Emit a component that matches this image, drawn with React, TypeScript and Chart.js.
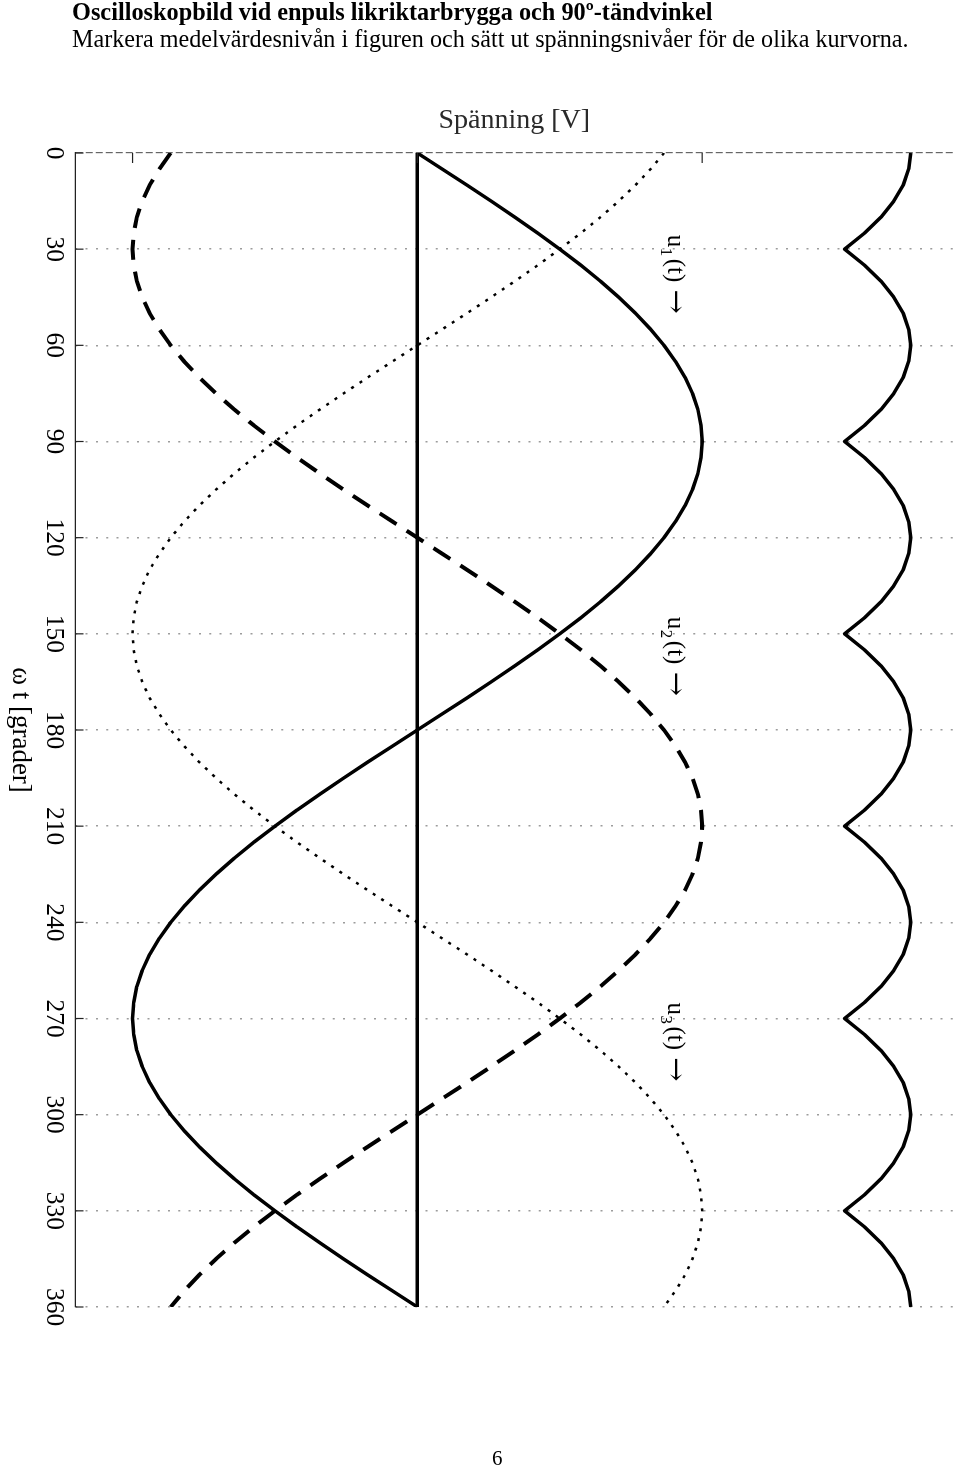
import React, { useEffect, useRef } from 'react';
import { Chart, registerables } from 'chart.js';

Chart.register(...registerables);

// ---- data (ωt in degrees, voltage in units of the phase amplitude) ----
const ANGLES = [
  0, 5, 10, 15, 20, 25, 30, 35, 40, 45, 50, 55,
  60, 65, 70, 75, 80, 85, 90, 95, 100, 105, 110, 115,
  120, 125, 130, 135, 140, 145, 150, 155, 160, 165, 170, 175,
  180, 185, 190, 195, 200, 205, 210, 215, 220, 225, 230, 235,
  240, 245, 250, 255, 260, 265, 270, 275, 280, 285, 290, 295,
  300, 305, 310, 315, 320, 325, 330, 335, 340, 345, 350, 355,
  360,
];

const U1 = [
  0, 0.087, 0.174, 0.259, 0.342, 0.423, 0.5, 0.574, 0.643, 0.707, 0.766, 0.819,
  0.866, 0.906, 0.94, 0.966, 0.985, 0.996, 1, 0.996, 0.985, 0.966, 0.94, 0.906,
  0.866, 0.819, 0.766, 0.707, 0.643, 0.574, 0.5, 0.423, 0.342, 0.259, 0.174, 0.087,
  0, -0.087, -0.174, -0.259, -0.342, -0.423, -0.5, -0.574, -0.643, -0.707, -0.766, -0.819,
  -0.866, -0.906, -0.94, -0.966, -0.985, -0.996, -1, -0.996, -0.985, -0.966, -0.94, -0.906,
  -0.866, -0.819, -0.766, -0.707, -0.643, -0.574, -0.5, -0.423, -0.342, -0.259, -0.174, -0.087,
  0,
];

const U2 = [
  -0.866, -0.906, -0.94, -0.966, -0.985, -0.996, -1, -0.996, -0.985, -0.966, -0.94, -0.906,
  -0.866, -0.819, -0.766, -0.707, -0.643, -0.574, -0.5, -0.423, -0.342, -0.259, -0.174, -0.087,
  0, 0.087, 0.174, 0.259, 0.342, 0.423, 0.5, 0.574, 0.643, 0.707, 0.766, 0.819,
  0.866, 0.906, 0.94, 0.966, 0.985, 0.996, 1, 0.996, 0.985, 0.966, 0.94, 0.906,
  0.866, 0.819, 0.766, 0.707, 0.643, 0.574, 0.5, 0.423, 0.342, 0.259, 0.174, 0.087,
  0, -0.087, -0.174, -0.259, -0.342, -0.423, -0.5, -0.574, -0.643, -0.707, -0.766, -0.819,
  -0.866,
];

const U3 = [
  0.866, 0.819, 0.766, 0.707, 0.643, 0.574, 0.5, 0.423, 0.342, 0.259, 0.174, 0.087,
  0, -0.087, -0.174, -0.259, -0.342, -0.423, -0.5, -0.574, -0.643, -0.707, -0.766, -0.819,
  -0.866, -0.906, -0.94, -0.966, -0.985, -0.996, -1, -0.996, -0.985, -0.966, -0.94, -0.906,
  -0.866, -0.819, -0.766, -0.707, -0.643, -0.574, -0.5, -0.423, -0.342, -0.259, -0.174, -0.087,
  0, 0.087, 0.174, 0.259, 0.342, 0.423, 0.5, 0.574, 0.643, 0.707, 0.766, 0.819,
  0.866, 0.906, 0.94, 0.966, 0.985, 0.996, 1, 0.996, 0.985, 0.966, 0.94, 0.906,
  0.866,
];

const RECTIFIED = [
  1.732, 1.725, 1.706, 1.673, 1.628, 1.57, 1.5, 1.57, 1.628, 1.673, 1.706, 1.725,
  1.732, 1.725, 1.706, 1.673, 1.628, 1.57, 1.5, 1.57, 1.628, 1.673, 1.706, 1.725,
  1.732, 1.725, 1.706, 1.673, 1.628, 1.57, 1.5, 1.57, 1.628, 1.673, 1.706, 1.725,
  1.732, 1.725, 1.706, 1.673, 1.628, 1.57, 1.5, 1.57, 1.628, 1.673, 1.706, 1.725,
  1.732, 1.725, 1.706, 1.673, 1.628, 1.57, 1.5, 1.57, 1.628, 1.673, 1.706, 1.725,
  1.732, 1.725, 1.706, 1.673, 1.628, 1.57, 1.5, 1.57, 1.628, 1.673, 1.706, 1.725,
  1.732,
];

const ZERO_ANGLES = [0, 360];
const ZERO_VALUES = [0, 0];

const X_TICKS = [0, 30, 60, 90, 120, 150, 180, 210, 240, 270, 300, 330, 360];
const Y_TICKS = [-1, 0, 1];

const CURVE_SUBS = ['1', '2', '3'];
const LABEL_ANGLES = [25.5, 144.7, 265];
const LABEL_LEVEL = 0.88;

const TITLE_TEXT = 'Oscilloskopbild vid enpuls likriktarbrygga och 90º-tändvinkel';
const SUBTITLE_TEXT =
  'Markera medelvärdesnivån i figuren och sätt ut spänningsnivåer för de olika kurvorna.';
const X_TITLE = 'ω t [grader]';
const Y_TITLE = 'Spänning [V]';
const PAGE_NO = '6';

const SERIF = '"Liberation Serif", "Times New Roman", serif';
const ARROW_FONT = '"DejaVu Serif", serif';

const toPoints = (xs: number[], ys: number[]) => xs.map((x, i) => ({ x, y: ys[i] }));

const overlayPlugin = {
  id: 'overlay',
  afterDatasetsDraw(chart: any) {
    const { ctx, chartArea, scales } = chart;
    const xs = scales.x;
    const ys = scales.y;
    ctx.save();
    ctx.setLineDash([]);
    ctx.strokeStyle = '#222';
    ctx.lineWidth = 1.2;
    X_TICKS.forEach((v) => {
      const p = xs.getPixelForValue(v);
      ctx.beginPath();
      ctx.moveTo(p, chartArea.bottom);
      ctx.lineTo(p, chartArea.bottom - 8);
      ctx.stroke();
    });
    Y_TICKS.forEach((v) => {
      const p = ys.getPixelForValue(v);
      ctx.beginPath();
      ctx.moveTo(chartArea.left, p);
      ctx.lineTo(chartArea.left + 10, p);
      ctx.stroke();
    });

    // curve labels u1(t) →, u2(t) →, u3(t) →
    ctx.fillStyle = '#000';
    ctx.textBaseline = 'alphabetic';
    ctx.textAlign = 'left';
    CURVE_SUBS.forEach((sub, i) => {
      const x0 = xs.getPixelForValue(LABEL_ANGLES[i]);
      const y0 = ys.getPixelForValue(LABEL_LEVEL);
      ctx.font = `25px ${SERIF}`;
      ctx.fillText('u', x0, y0);
      const wu = ctx.measureText('u').width;
      ctx.font = `17px ${SERIF}`;
      ctx.fillText(sub, x0 + wu + 0.5, y0 + 7);
      const ws = ctx.measureText(sub).width;
      ctx.font = `25px ${SERIF}`;
      ctx.fillText('(t)', x0 + wu + ws + 3, y0);
      const wt = ctx.measureText('(t) ').width;
      ctx.font = `300 29px ${ARROW_FONT}`;
      ctx.fillText('\u2192', x0 + wu + ws + 4 + wt, y0 + 1);
    });
    ctx.restore();
  },
};

export default function App() {
  const canvasRef = useRef<HTMLCanvasElement | null>(null);

  useEffect(() => {
    const canvas = canvasRef.current;
    if (!canvas) return;
    const chart = new Chart(canvas, {
      type: 'scatter',
      data: {
        datasets: [
          {
            label: 'noll',
            data: toPoints(ZERO_ANGLES, ZERO_VALUES),
            showLine: true,
            borderColor: '#000',
            borderWidth: 3.5,
            pointRadius: 0,
          },
          {
            label: 'u1(t)',
            data: toPoints(ANGLES, U1),
            showLine: true,
            borderColor: '#000',
            borderWidth: 3.5,
            borderJoinStyle: 'round',
            pointRadius: 0,
          },
          {
            label: 'u2(t)',
            data: toPoints(ANGLES, U2),
            showLine: true,
            borderColor: '#000',
            borderWidth: 4,
            borderDash: [20, 12],
            borderCapStyle: 'butt',
            pointRadius: 0,
          },
          {
            label: 'u3(t)',
            data: toPoints(ANGLES, U3),
            showLine: true,
            borderColor: '#000',
            borderWidth: 2.5,
            borderDash: [3, 7],
            borderCapStyle: 'butt',
            pointRadius: 0,
          },
          {
            label: 'ud(t)',
            data: toPoints(ANGLES, RECTIFIED),
            showLine: true,
            borderColor: '#000',
            borderWidth: 3.5,
            borderJoinStyle: 'round',
            pointRadius: 0,
          },
        ],
      },
      options: {
        animation: false,
        responsive: false,
        devicePixelRatio: 1,
        layout: { padding: { left: 100.2, right: 163, top: 7.2, bottom: 3.6 } },
        plugins: {
          legend: { display: false },
          tooltip: { enabled: false },
          title: { display: false },
        },
        elements: { point: { radius: 0 } },
        scales: {
          x: {
            type: 'linear',
            position: 'bottom',
            min: 0,
            max: 360,
            afterBuildTicks: (scale: any) => {
              scale.ticks = X_TICKS.map((value) => ({ value }));
            },
            ticks: {
              autoSkip: false,
              maxRotation: 0,
              minRotation: 0,
              padding: 7,
              color: '#000',
              font: { family: SERIF, size: 25.5 },
            },
            grid: {
              display: true,
              drawTicks: false,
              color: (c: any) => (c.tick && c.tick.value === 0 ? '#666' : '#9c9c9c'),
              lineWidth: (c: any) => (c.tick && c.tick.value === 0 ? 1.2 : 1.5),
            },
            border: {
              display: true,
              color: '#222',
              width: 1.3,
              dash: (c: any) => (c.tick && c.tick.value === 0 ? [7, 3] : [2, 8.3]),
            },
            title: {
              display: true,
              text: X_TITLE,
              color: '#000',
              font: { family: SERIF, size: 27 },
              padding: { top: -5, bottom: 0 },
            },
          },
          y: {
            type: 'linear',
            position: 'left',
            min: -1.2,
            max: 1.88,
            ticks: { display: false },
            grid: { display: false, drawTicks: false },
            border: { display: false },
            title: {
              display: true,
              text: Y_TITLE,
              color: '#2a2a2a',
              font: { family: SERIF, size: 28 },
              padding: { top: 4, bottom: 15.2 },
            },
          },
        },
      } as any,
      plugins: [overlayPlugin],
    });
    return () => chart.destroy();
  }, []);

  return (
    <div
      style={{
        position: 'absolute',
        left: 0,
        top: 0,
        width: 960,
        height: 1470,
        overflow: 'hidden',
        background: '#fff',
      }}
    >
      <canvas
        ref={canvasRef}
        width={1470}
        height={960}
        style={{
          position: 'absolute',
          left: 0,
          top: 0,
          width: 1470,
          height: 960,
          transformOrigin: '0 0',
          transform: 'translateX(960px) rotate(90deg)',
        }}
      />
      <div
        style={{
          position: 'absolute',
          left: 72,
          top: 0,
          fontFamily: SERIF,
          fontWeight: 'bold',
          fontSize: 24.3,
          lineHeight: '24px',
          whiteSpace: 'nowrap',
          color: '#000',
        }}
      >
        {TITLE_TEXT}
      </div>
      <div
        style={{
          position: 'absolute',
          left: 72,
          top: 27,
          fontFamily: SERIF,
          fontSize: 24.15,
          lineHeight: '24px',
          whiteSpace: 'nowrap',
          color: '#000',
        }}
      >
        {SUBTITLE_TEXT}
      </div>
      <div
        style={{
          position: 'absolute',
          left: 492,
          top: 1448,
          fontFamily: SERIF,
          fontSize: 21,
          lineHeight: '21px',
          color: '#000',
        }}
      >
        {PAGE_NO}
      </div>
    </div>
  );
}
